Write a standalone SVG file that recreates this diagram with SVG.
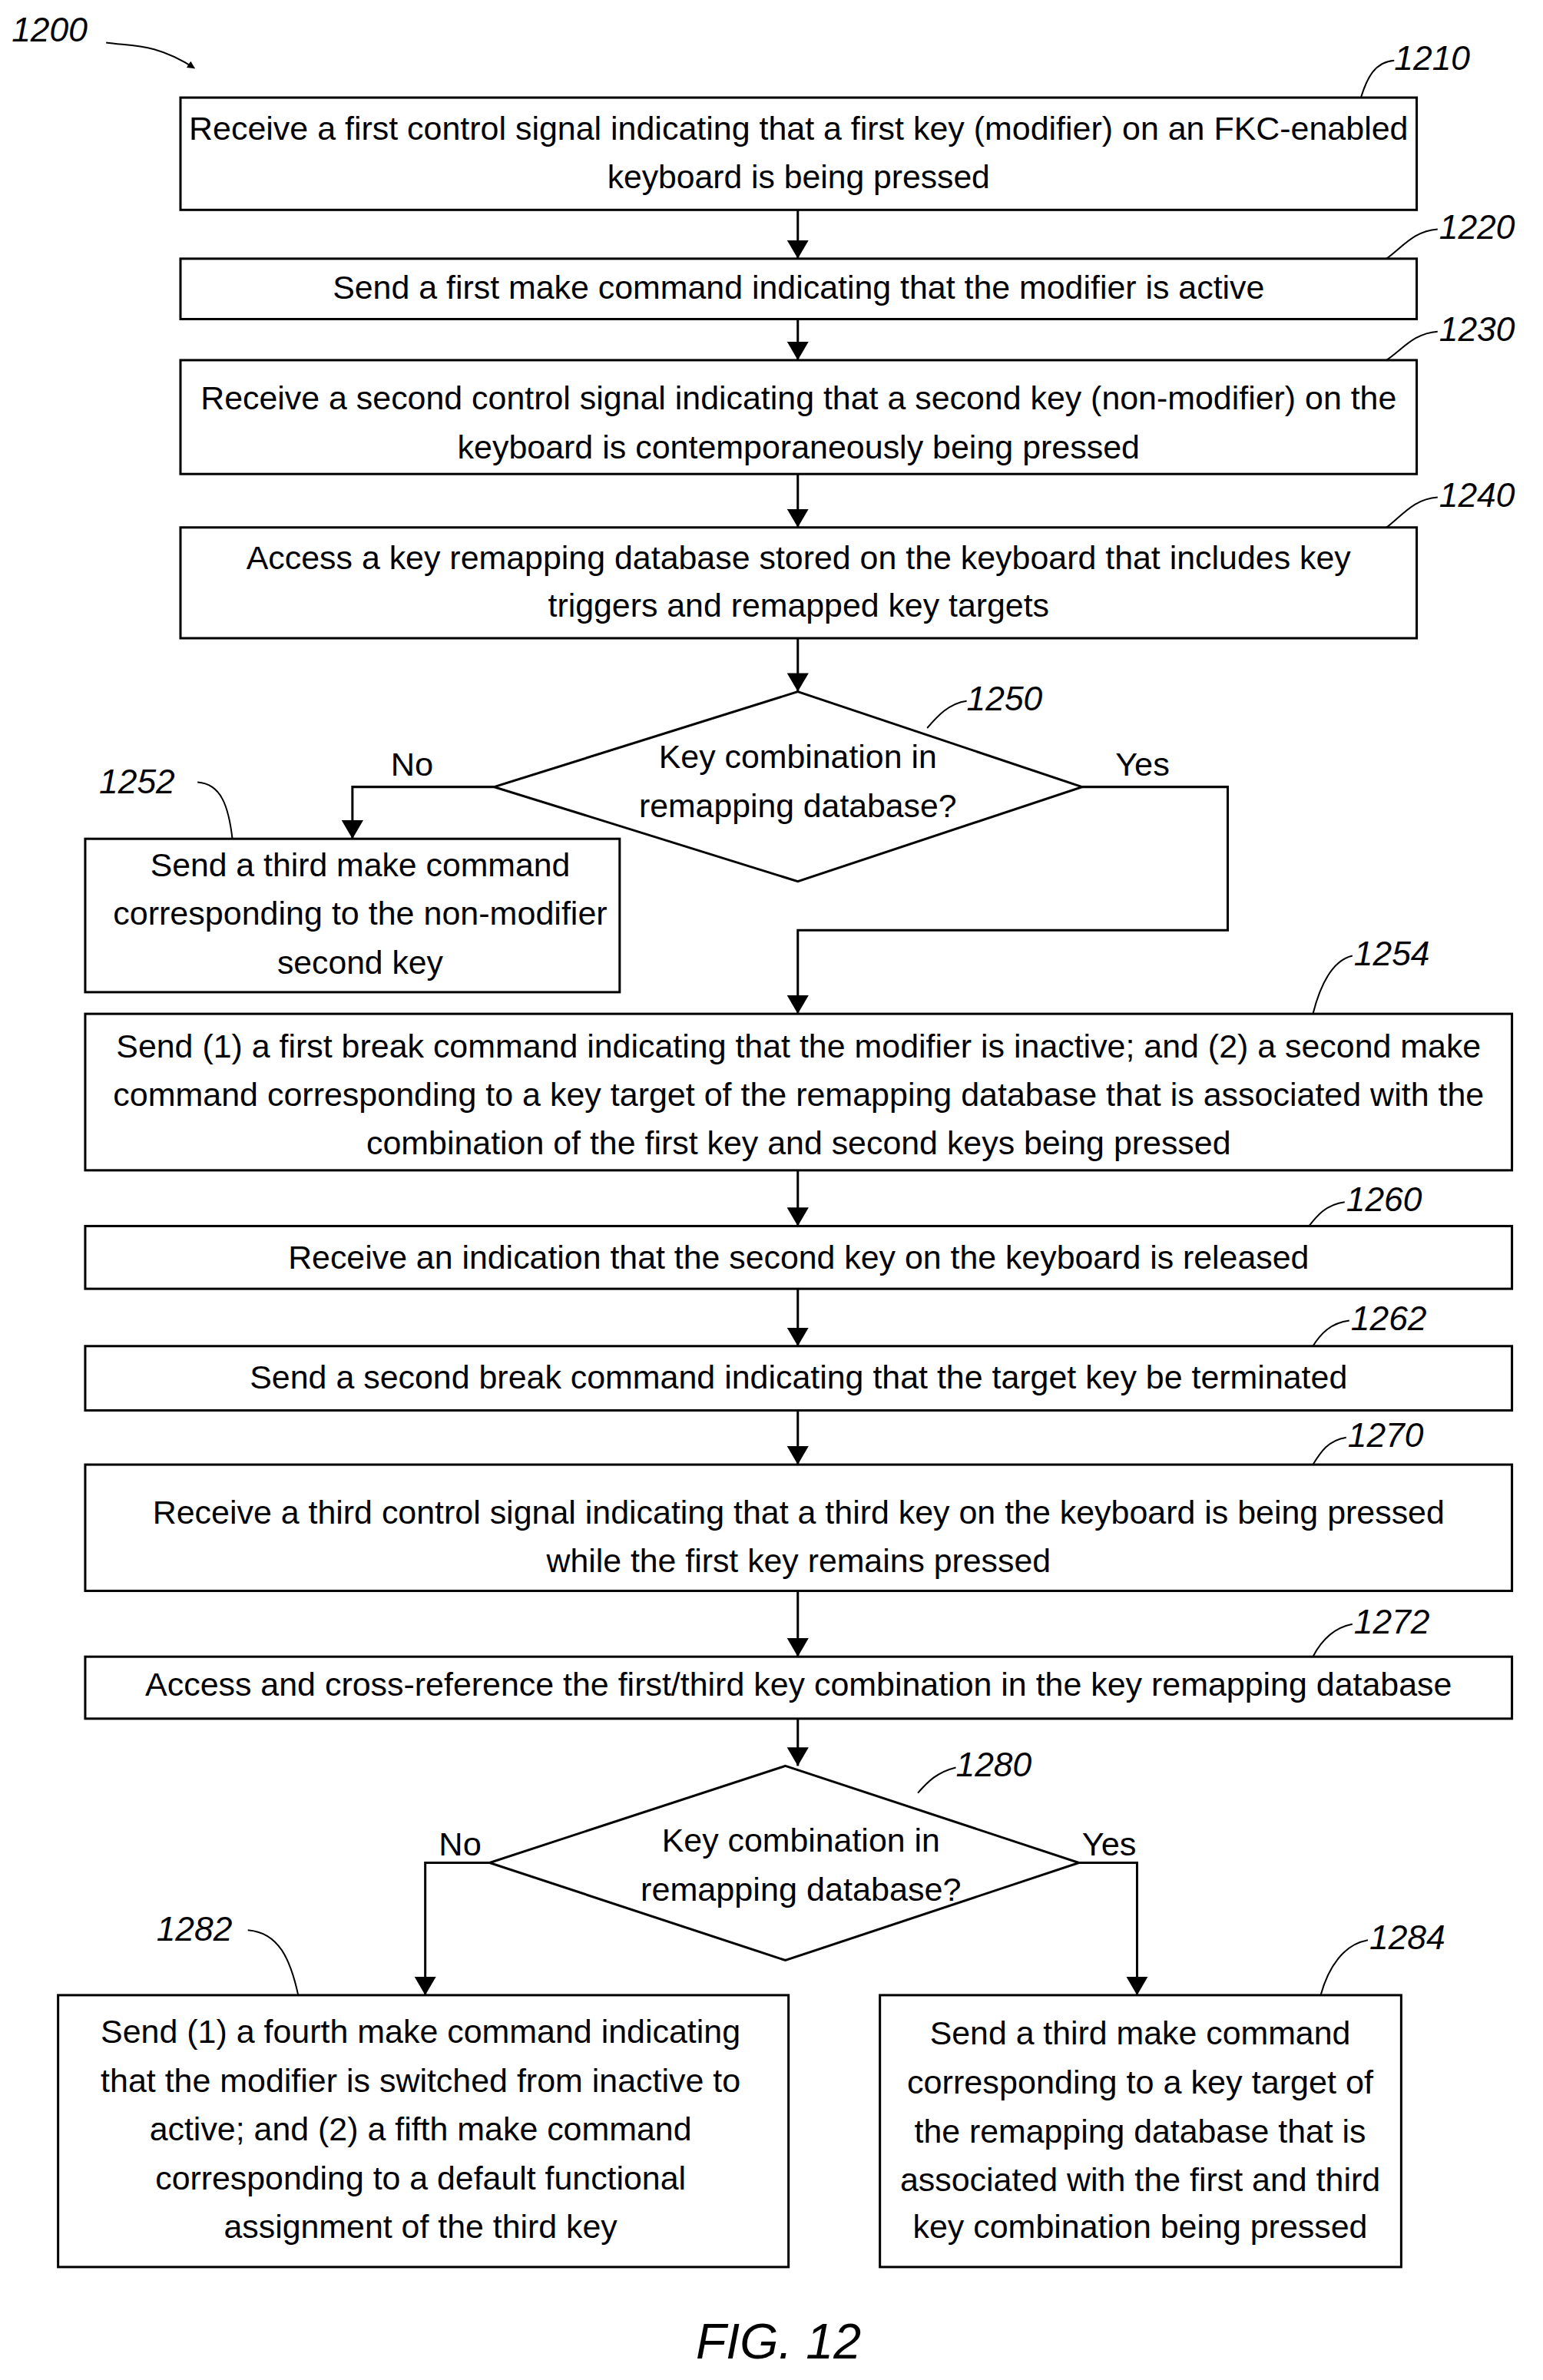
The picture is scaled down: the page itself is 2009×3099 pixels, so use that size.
<svg xmlns="http://www.w3.org/2000/svg" width="2009" height="3099" viewBox="0 0 2009 3099">
<style>
.b{fill:#fff;stroke:#000;stroke-width:3}
.t{font-family:"Liberation Sans",Arial,sans-serif;font-size:43px;text-anchor:middle;fill:#000}
.r{font-family:"Liberation Sans",Arial,sans-serif;font-size:44px;font-style:italic;fill:#000}
.c{fill:none;stroke:#000;stroke-width:3}
.l{fill:none;stroke:#000;stroke-width:2}
</style>
<defs><marker id="a" markerWidth="10" markerHeight="10" refX="9" refY="5" orient="auto" markerUnits="userSpaceOnUse" viewBox="0 0 10 10"><path d="M0,0L10,5L0,10z"/></marker>
<marker id="A" markerWidth="24" markerHeight="28" refX="24" refY="14" orient="auto" markerUnits="userSpaceOnUse"><path d="M0,0L24,14L0,28z"/></marker></defs>
<g transform="scale(1.0085)">
<g id="connectors">
<path class="c" marker-end="url(#A)" d="M1030,271V334"/>
<path class="c" marker-end="url(#A)" d="M1030,412V465"/>
<path class="c" marker-end="url(#A)" d="M1030,612V681"/>
<path class="c" marker-end="url(#A)" d="M1030,824V893"/>
<path class="c" marker-end="url(#A)" d="M638,1016H455V1083"/>
<path class="c" marker-end="url(#A)" d="M1397,1016H1585V1201H1030V1309"/>
<path class="c" marker-end="url(#A)" d="M1030,1511V1583"/>
<path class="c" marker-end="url(#A)" d="M1030,1664V1738"/>
<path class="c" marker-end="url(#A)" d="M1030,1821V1891"/>
<path class="c" marker-end="url(#A)" d="M1030,2054V2139"/>
<path class="c" marker-end="url(#A)" d="M1030,2219V2280"/>
<path class="c" marker-end="url(#A)" d="M632,2405H549V2576"/>
<path class="c" marker-end="url(#A)" d="M1393,2405H1468V2576"/>
<text class="t" x="532" y="1001">No</text><text class="t" x="1475" y="1001">Yes</text>
<text class="t" x="594" y="2396">No</text><text class="t" x="1432" y="2396">Yes</text>
</g>
<g id="n1200"><text class="r" x="15" y="54">1200</text><path class="l" marker-end="url(#a)" d="M137,55C170,60 200,55 251,88" stroke-width="2.5"/></g>
<g id="n1210"><rect class="b" x="233" y="126" width="1596" height="145"/>
<text class="t" x="1031" y="180" textLength="1574" lengthAdjust="spacingAndGlyphs">Receive a first control signal indicating that a first key (modifier) on an FKC-enabled</text>
<text class="t" x="1031" y="243" textLength="494" lengthAdjust="spacingAndGlyphs">keyboard is being pressed</text>
<text class="r" x="1800" y="90">1210</text><path class="l" d="M1800,78C1775,80 1765,100 1757,126"/></g>
<g id="n1220"><rect class="b" x="233" y="334" width="1596" height="78"/>
<text class="t" x="1031" y="386" textLength="1203" lengthAdjust="spacingAndGlyphs">Send a first make command indicating that the modifier is active</text>
<text class="r" x="1858" y="308">1220</text><path class="l" d="M1856,296C1825,298 1810,320 1790,334"/></g>
<g id="n1230"><rect class="b" x="233" y="465" width="1596" height="147"/>
<text class="t" x="1031" y="529" textLength="1544" lengthAdjust="spacingAndGlyphs">Receive a second control signal indicating that a second key (non-modifier) on the</text>
<text class="t" x="1031" y="592" textLength="881" lengthAdjust="spacingAndGlyphs">keyboard is contemporaneously being pressed</text>
<text class="r" x="1858" y="440">1230</text><path class="l" d="M1856,428C1825,430 1810,452 1790,465"/></g>
<g id="n1240"><rect class="b" x="233" y="681" width="1596" height="143"/>
<text class="t" x="1031" y="735" textLength="1426" lengthAdjust="spacingAndGlyphs">Access a key remapping database stored on the keyboard that includes key</text>
<text class="t" x="1031" y="796" textLength="647" lengthAdjust="spacingAndGlyphs">triggers and remapped key targets</text>
<text class="r" x="1858" y="654">1240</text><path class="l" d="M1856,642C1825,644 1810,666 1790,681"/></g>
<g id="n1250"><path class="b" d="M1030,893L1397,1016L1030,1138L638,1016Z"/>
<text class="t" x="1030" y="992" textLength="359" lengthAdjust="spacingAndGlyphs">Key combination in</text>
<text class="t" x="1030" y="1055" textLength="410" lengthAdjust="spacingAndGlyphs">remapping database?</text>
<text class="r" x="1248" y="917">1250</text><path class="l" d="M1248,905C1225,908 1210,925 1197,940"/></g>
<g id="n1252"><rect class="b" x="110" y="1083" width="690" height="198"/>
<text class="t" x="465" y="1131" textLength="542" lengthAdjust="spacingAndGlyphs">Send a third make command</text>
<text class="t" x="465" y="1194" textLength="638" lengthAdjust="spacingAndGlyphs">corresponding to the non-modifier</text>
<text class="t" x="465" y="1257" textLength="214" lengthAdjust="spacingAndGlyphs">second key</text>
<text class="r" x="128" y="1024">1252</text><path class="l" d="M255,1010C285,1012 295,1040 300,1083"/></g>
<g id="n1254"><rect class="b" x="110" y="1309" width="1842" height="202"/>
<text class="t" x="1031" y="1365" textLength="1762" lengthAdjust="spacingAndGlyphs">Send (1) a first break command indicating that the modifier is inactive; and (2) a second make</text>
<text class="t" x="1031" y="1428" textLength="1770" lengthAdjust="spacingAndGlyphs">command corresponding to a key target of the remapping database that is associated with the</text>
<text class="t" x="1031" y="1490" textLength="1116" lengthAdjust="spacingAndGlyphs">combination of the first key and second keys being pressed</text>
<text class="r" x="1748" y="1246">1254</text><path class="l" d="M1746,1234C1720,1240 1705,1270 1695,1309"/></g>
<g id="n1260"><rect class="b" x="110" y="1583" width="1842" height="81"/>
<text class="t" x="1031" y="1638" textLength="1318" lengthAdjust="spacingAndGlyphs">Receive an indication that the second key on the keyboard is released</text>
<text class="r" x="1738" y="1564">1260</text><path class="l" d="M1736,1552C1712,1555 1700,1570 1690,1583"/></g>
<g id="n1262"><rect class="b" x="110" y="1738" width="1842" height="83"/>
<text class="t" x="1031" y="1793" textLength="1417" lengthAdjust="spacingAndGlyphs">Send a second break command indicating that the target key be terminated</text>
<text class="r" x="1744" y="1717">1262</text><path class="l" d="M1742,1705C1718,1708 1705,1722 1695,1738"/></g>
<g id="n1270"><rect class="b" x="110" y="1891" width="1842" height="163"/>
<text class="t" x="1031" y="1967" textLength="1668" lengthAdjust="spacingAndGlyphs">Receive a third control signal indicating that a third key on the keyboard is being pressed</text>
<text class="t" x="1031" y="2030" textLength="651" lengthAdjust="spacingAndGlyphs">while the first key remains pressed</text>
<text class="r" x="1740" y="1868">1270</text><path class="l" d="M1738,1856C1714,1860 1705,1875 1695,1891"/></g>
<g id="n1272"><rect class="b" x="110" y="2139" width="1842" height="80"/>
<text class="t" x="1031" y="2189" textLength="1687" lengthAdjust="spacingAndGlyphs">Access and cross-reference the first/third key combination in the key remapping database</text>
<text class="r" x="1748" y="2109">1272</text><path class="l" d="M1746,2097C1720,2102 1705,2120 1695,2139"/></g>
<g id="n1280"><path class="b" d="M1014,2280L1393,2405L1014,2531L632,2405Z"/>
<text class="t" x="1034" y="2391" textLength="359" lengthAdjust="spacingAndGlyphs">Key combination in</text>
<text class="t" x="1034" y="2454" textLength="414" lengthAdjust="spacingAndGlyphs">remapping database?</text>
<text class="r" x="1234" y="2294">1280</text><path class="l" d="M1234,2282C1210,2288 1198,2300 1185,2315"/></g>
<g id="n1282"><rect class="b" x="75" y="2576" width="943" height="351"/>
<text class="t" x="543" y="2638" textLength="826" lengthAdjust="spacingAndGlyphs">Send (1) a fourth make command indicating</text>
<text class="t" x="543" y="2701" textLength="826" lengthAdjust="spacingAndGlyphs">that the modifier is switched from inactive to</text>
<text class="t" x="543" y="2764" textLength="700" lengthAdjust="spacingAndGlyphs">active; and (2) a fifth make command</text>
<text class="t" x="543" y="2827" textLength="685" lengthAdjust="spacingAndGlyphs">corresponding to a default functional</text>
<text class="t" x="543" y="2889" textLength="508" lengthAdjust="spacingAndGlyphs">assignment of the third key</text>
<text class="r" x="202" y="2506">1282</text><path class="l" d="M320,2492C360,2495 375,2530 385,2576"/></g>
<g id="n1284"><rect class="b" x="1136" y="2576" width="673" height="351"/>
<text class="t" x="1472" y="2640" textLength="543" lengthAdjust="spacingAndGlyphs">Send a third make command</text>
<text class="t" x="1472" y="2703" textLength="602" lengthAdjust="spacingAndGlyphs">corresponding to a key target of</text>
<text class="t" x="1472" y="2766" textLength="583" lengthAdjust="spacingAndGlyphs">the remapping database that is</text>
<text class="t" x="1472" y="2829" textLength="620" lengthAdjust="spacingAndGlyphs">associated with the first and third</text>
<text class="t" x="1472" y="2889" textLength="587" lengthAdjust="spacingAndGlyphs">key combination being pressed</text>
<text class="r" x="1768" y="2517">1284</text><path class="l" d="M1766,2505C1735,2510 1715,2540 1705,2576"/></g>
<text x="1005" y="3045" style="font-family:'Liberation Sans',Arial,sans-serif;font-size:64px;font-style:italic;text-anchor:middle">FIG. 12</text>
</g>
</svg>
